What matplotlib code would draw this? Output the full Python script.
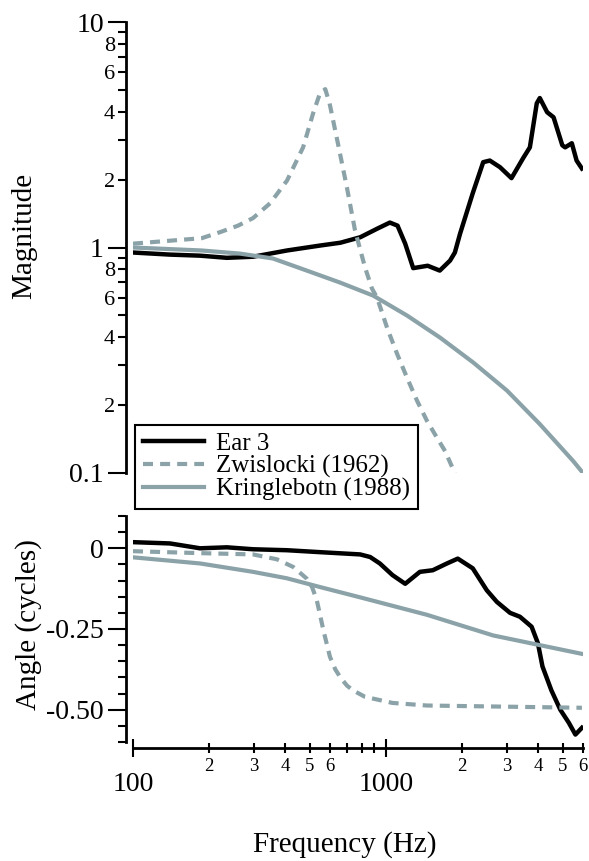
import matplotlib
matplotlib.use("Agg")
import matplotlib.pyplot as plt
from matplotlib.ticker import FixedLocator, FixedFormatter

plt.rcParams['font.family'] = ['Liberation Serif', 'DejaVu Serif']

# Ear 3 measurement
ear3_mag_f = [100, 140, 184, 235, 298, 406, 548, 660, 790, 920, 1035, 1110, 1190, 1280,
              1460, 1630, 1790, 1870, 1960, 2200, 2420, 2570, 2820, 3130, 3480, 3700,
              3940, 4050, 4330, 4590, 4970, 5100, 5420, 5660, 5940]
ear3_mag = [0.95, 0.93, 0.92, 0.90, 0.91, 0.97, 1.02, 1.05, 1.11, 1.21, 1.29, 1.25, 1.04,
            0.81, 0.83, 0.79, 0.875, 0.95, 1.15, 1.74, 2.39, 2.43, 2.27, 2.03, 2.49,
            2.78, 4.36, 4.6, 3.98, 3.78, 2.84, 2.78, 2.9, 2.43, 2.24]
ear3_ang_f = [100, 140, 184, 235, 298, 406, 548, 790, 865, 945, 1060, 1190, 1360, 1530,
              1740, 1920, 2200, 2500, 2740, 3090, 3380, 3760, 3980, 4150, 4500, 4880,
              5270, 5600, 5940]
ear3_ang = [0.019, 0.015, 0.0, 0.003, -0.003, -0.006, -0.012, -0.019, -0.027, -0.047,
            -0.083, -0.11, -0.073, -0.068, -0.047, -0.032, -0.062, -0.13, -0.166, -0.2,
            -0.212, -0.243, -0.294, -0.366, -0.44, -0.5, -0.54, -0.577, -0.556]

# Zwislocki (1962) model
zw_mag_f = [100, 187, 221, 260, 298, 348, 406, 470, 515, 548, 575, 598, 645, 700, 754,
            826, 880, 921, 1009, 1105, 1211, 1326, 1452, 1591, 1711, 1840, 1880]
zw_mag = [1.04, 1.10, 1.17, 1.25, 1.35, 1.57, 1.98, 2.78, 3.94, 4.83, 5.04, 4.36, 2.9,
          1.85, 1.19, 0.815, 0.657, 0.60, 0.441, 0.338, 0.264, 0.209, 0.170, 0.143,
          0.125, 0.104, 0.1]
zw_ang_f = [100, 184, 298, 370, 430, 486, 510, 532, 548, 565, 600, 630, 660, 700, 740,
            825, 1060, 1450, 2650, 5940]
zw_ang = [-0.009, -0.015, -0.019, -0.034, -0.058, -0.094, -0.12, -0.16, -0.205, -0.253,
          -0.336, -0.375, -0.40, -0.425, -0.44, -0.46, -0.479, -0.487, -0.49, -0.494]

# Kringlebotn (1988) model
kr_mag_f = [100, 187, 264, 357, 486, 658, 889, 1211, 1637, 2219, 3005, 4045, 5487, 6000]
kr_mag = [1.0, 0.97, 0.94, 0.894, 0.79, 0.699, 0.612, 0.499, 0.398, 0.308, 0.232,
          0.165, 0.113, 0.1]
kr_ang_f = [100, 184, 298, 406, 548, 790, 1450, 2650, 5940]
kr_ang = [-0.028, -0.047, -0.073, -0.093, -0.12, -0.152, -0.206, -0.27, -0.327]

labels = ['Ear 3', 'Zwislocki (1962)', 'Kringlebotn (1988)']

mag_major = [0.1, 1, 10]
mag_major_lbl = ['0.1', '1', '10']
mag_minor = [0.2, 0.3, 0.4, 0.5, 0.6, 0.7, 0.8, 0.9, 2, 3, 4, 5, 6, 7, 8, 9]
mag_minor_lbl = ['2', '', '4', '', '6', '', '8', '', '2', '', '4', '', '6', '', '8', '']

ang_major = [0, -0.25, -0.5]
ang_major_lbl = ['0', '-0.25', '-0.50']
ang_minor = [0.1, 0.05, -0.05, -0.1, -0.15, -0.2, -0.3, -0.35, -0.4, -0.45, -0.55, -0.6]

f_major = [100, 1000]
f_major_lbl = ['100', '1000']
f_minor = [200, 300, 400, 500, 600, 700, 800, 900, 2000, 3000, 4000, 5000, 6000]
f_minor_lbl = ['2', '3', '4', '5', '6', '', '', '', '2', '3', '4', '5', '6']

gray = '#8ba3a8'
W, H = 589, 861
fig = plt.figure(figsize=(W / 100, H / 100), dpi=100)
ax1 = fig.add_axes([133 / W, 1 - 473 / H, 450 / W, 451 / H])
ax2 = fig.add_axes([133 / W, 1 - 742 / H, 450 / W, 226 / H])

l1, = ax1.plot(ear3_mag_f, ear3_mag, color='black', lw=3.2, solid_joinstyle='round')
l2, = ax1.plot(zw_mag_f, zw_mag, color=gray, lw=3, dashes=(2.4, 1.7))
l3, = ax1.plot(kr_mag_f, kr_mag, color=gray, lw=3)
ax2.plot(ear3_ang_f, ear3_ang, color='black', lw=3.2, solid_joinstyle='round')
ax2.plot(zw_ang_f, zw_ang, color=gray, lw=3, dashes=(2.4, 1.7))
ax2.plot(kr_ang_f, kr_ang, color=gray, lw=3)

for ax in (ax1, ax2):
    ax.set_xscale('log')
    ax.set_xlim(100, 6000)
    ax.spines['top'].set_visible(False)
    ax.spines['right'].set_visible(False)
    ax.spines['left'].set_linewidth(2)
    ax.spines['bottom'].set_linewidth(2)
    ax.spines['left'].set_position(('outward', 5))
    ax.patch.set_alpha(0)
    ax.tick_params(axis='y', which='major', direction='out', length=13, width=1.5,
                   pad=3, labelsize=20)
    ax.tick_params(axis='y', which='minor', direction='out', length=6, width=1.5,
                   pad=2, labelsize=16)

ax1.set_yscale('log')
ax1.set_ylim(0.1, 10)
ax1.spines['bottom'].set_visible(False)
ax1.xaxis.set_visible(False)
ax1.yaxis.set_major_locator(FixedLocator(mag_major))
ax1.yaxis.set_major_formatter(FixedFormatter(mag_major_lbl))
ax1.yaxis.set_minor_locator(FixedLocator(mag_minor))
ax1.yaxis.set_minor_formatter(FixedFormatter(mag_minor_lbl))
ax1.set_ylabel('Magnitude', fontsize=21, va='center')
ax1.yaxis.set_label_coords(-0.242, 0.525)

ax2.set_ylim(-0.6, 0.1)
ax2.spines['bottom'].set_position(('outward', 4))
ax2.yaxis.set_major_locator(FixedLocator(ang_major))
ax2.yaxis.set_major_formatter(FixedFormatter(ang_major_lbl))
ax2.yaxis.set_minor_locator(FixedLocator(ang_minor))
ax2.yaxis.set_minor_formatter(FixedFormatter([''] * len(ang_minor)))
ax2.xaxis.set_major_locator(FixedLocator(f_major))
ax2.xaxis.set_major_formatter(FixedFormatter(f_major_lbl))
ax2.xaxis.set_minor_locator(FixedLocator(f_minor))
ax2.xaxis.set_minor_formatter(FixedFormatter(f_minor_lbl))
ax2.tick_params(axis='x', which='major', direction='inout', length=13, width=1.5,
                pad=11, labelsize=20)
ax2.tick_params(axis='x', which='minor', direction='inout', length=7, width=1.5,
                pad=4, labelsize=13.5)
ax2.set_ylabel('Angle (cycles)', fontsize=21, va='center')
ax2.yaxis.set_label_coords(-0.233, 0.52)

fig.text(345 / W, 1 - 845 / H, 'Frequency (Hz)', fontsize=21, ha='center', va='center')

leg = fig.legend([l1, l2, l3], labels, loc='upper left',
                 bbox_to_anchor=(135 / W, 1 - 425 / H), borderaxespad=0,
                 fontsize=18, frameon=True, fancybox=False, framealpha=1,
                 edgecolor='black', handlelength=2.44, handletextpad=0.5,
                 borderpad=0.3, labelspacing=0.0)
leg.get_frame().set_linewidth(1.5)

fig.savefig('out.png', dpi=100)
